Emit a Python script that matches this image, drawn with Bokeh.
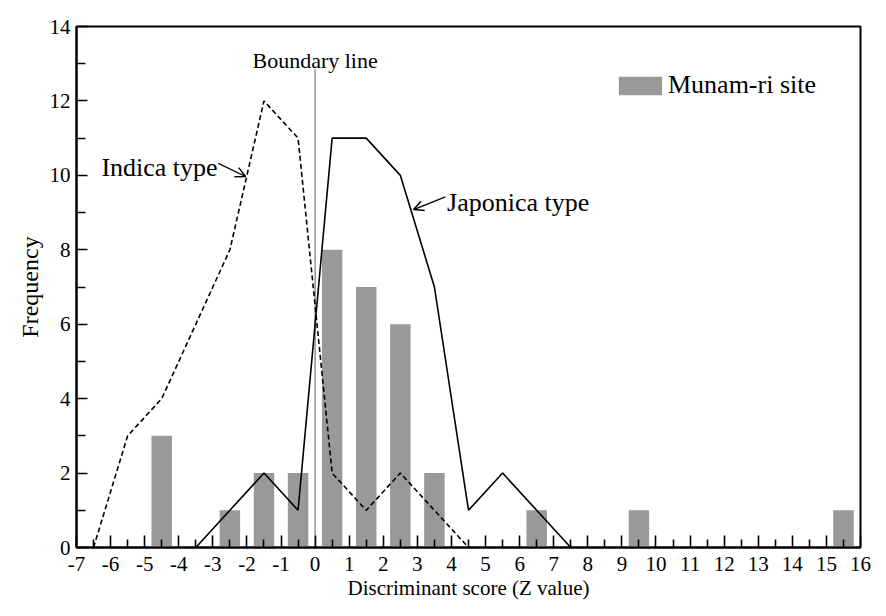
from bokeh.plotting import figure
from bokeh.models import (Range1d, FixedTicker, Label, Arrow, OpenHead,
                          Legend, LegendItem)
from bokeh.embed import file_html
from bokeh.resources import INLINE

# ---------------- data ----------------
bin_centers = [-4.5, -2.5, -1.5, -0.5, 0.5, 1.5, 2.5, 3.5, 6.5, 9.5, 15.5]
munamri_freq = [3, 1, 2, 2, 8, 7, 6, 2, 1, 1, 1]

indica_x = [-6.5, -5.5, -4.5, -3.5, -2.5, -1.5, -0.5, 0.5, 1.5, 2.5, 3.5, 4.5]
indica_y = [0, 3, 4, 6, 8, 12, 11, 2, 1, 2, 1, 0]

japonica_x = [-3.5, -2.5, -1.5, -0.5, 0.5, 1.5, 2.5, 3.5, 4.5, 5.5, 6.5, 7.5]
japonica_y = [0, 1, 2, 1, 11, 11, 10, 7, 1, 2, 1, 0]

x_ticks = list(range(-7, 17))
x_tick_labels = ["-7", "-6", "-5", "-4", "-3", "-2", "-1", "0", "1", "2", "3",
                 "4", "5", "6", "7", "8", "9", "10", "11", "12", "13", "14",
                 "15", "16"]
x_minor_ticks = [t + 0.5 for t in range(-7, 16)]
y_ticks = [0, 2, 4, 6, 8, 10, 12, 14]
y_tick_labels = ["0", "2", "4", "6", "8", "10", "12", "14"]
y_minor_ticks = [1, 3, 5, 7, 9, 11, 13]

boundary_x = 0
boundary_top = 12.85

# ---------------- styles ----------------
FONT = "Liberation Serif"
BAR = "#999999"

p = figure(width=880, height=610, output_backend="svg", toolbar_location=None,
           x_range=Range1d(-7, 16), y_range=Range1d(0, 14),
           min_border_left=76, min_border_right=20, min_border_top=26,
           min_border_bottom=63)
p.frame_width = 784
p.frame_height = 521
p.xgrid.visible = False
p.ygrid.visible = False
p.outline_line_color = "black"
p.outline_line_width = 2
p.background_fill_color = "white"
p.border_fill_color = "white"

bars = p.vbar(x=bin_centers, top=munamri_freq, width=0.6,
              fill_color=BAR, line_color=None)

p.segment(x0=[boundary_x], y0=[0], x1=[boundary_x], y1=[boundary_top],
          line_color="#777777", line_width=1.2)

p.line(indica_x, indica_y, line_color="black", line_width=1.6,
       line_dash="5 3")
p.line(japonica_x, japonica_y, line_color="black", line_width=1.6)

# axes with inward ticks
xa = p.xaxis[0]
xa.ticker = FixedTicker(ticks=x_ticks, minor_ticks=x_minor_ticks)
xa.major_label_overrides = {t: l for t, l in zip(x_ticks, x_tick_labels)}
xa.axis_label = "Discriminant score (Z value)"
ya = p.yaxis[0]
ya.ticker = FixedTicker(ticks=y_ticks, minor_ticks=y_minor_ticks)
ya.major_label_overrides = {t: l for t, l in zip(y_ticks, y_tick_labels)}
ya.axis_label = "Frequency"
for ax in (xa, ya):
    ax.axis_line_width = 2
    ax.axis_line_color = "black"
    ax.major_tick_out = 0
    ax.minor_tick_out = 0
    ax.major_tick_line_width = 1.6
    ax.minor_tick_line_width = 1.6
    ax.major_tick_line_color = "black"
    ax.minor_tick_line_color = "black"
    ax.major_label_text_font = FONT
    ax.major_label_text_font_size = "21px"
    ax.major_label_text_color = "black"
    ax.axis_label_text_font = FONT
    ax.axis_label_text_font_style = "normal"
    ax.axis_label_text_color = "black"
xa.major_tick_in = 12
xa.minor_tick_in = 8
ya.major_tick_in = 11
ya.minor_tick_in = 9
xa.axis_label_text_font_size = "21px"
ya.axis_label_text_font_size = "24px"
xa.major_label_standoff = 9
xa.axis_label_standoff = 2
ya.major_label_standoff = 6
ya.axis_label_standoff = 4

# annotations
p.add_layout(Label(x=0, y=13.09, text="Boundary line", text_align="center",
                   text_baseline="alphabetic", text_font=FONT,
                   text_font_size="22px", text_color="black"))
p.add_layout(Label(x=-2.86, y=10.22, text="Indica type", text_align="right",
                   text_baseline="alphabetic", text_font=FONT,
                   text_font_size="26px", text_color="black"))
p.add_layout(Label(x=3.87, y=9.28, text="Japonica type", text_align="left",
                   text_baseline="alphabetic", text_font=FONT,
                   text_font_size="26px", text_color="black"))
p.add_layout(Arrow(end=OpenHead(size=10, line_width=1.5, line_color="black"),
                   x_start=-2.84, y_start=10.32, x_end=-2.04, y_end=9.97,
                   line_width=1.3, line_color="black"))
p.add_layout(Arrow(end=OpenHead(size=10, line_width=1.5, line_color="black"),
                   x_start=3.82, y_start=9.42, x_end=2.89, y_end=9.08,
                   line_width=1.3, line_color="black"))

legend = Legend(items=[LegendItem(label="Munam-ri site", renderers=[bars])],
                location="top_right", margin=44, padding=0,
                border_line_color=None, background_fill_alpha=0,
                glyph_width=54, glyph_height=23, label_standoff=1,
                label_text_font=FONT, label_text_font_size="26px",
                label_text_color="black")
p.add_layout(legend)

open("out.html", "w").write(file_html(p, INLINE))
